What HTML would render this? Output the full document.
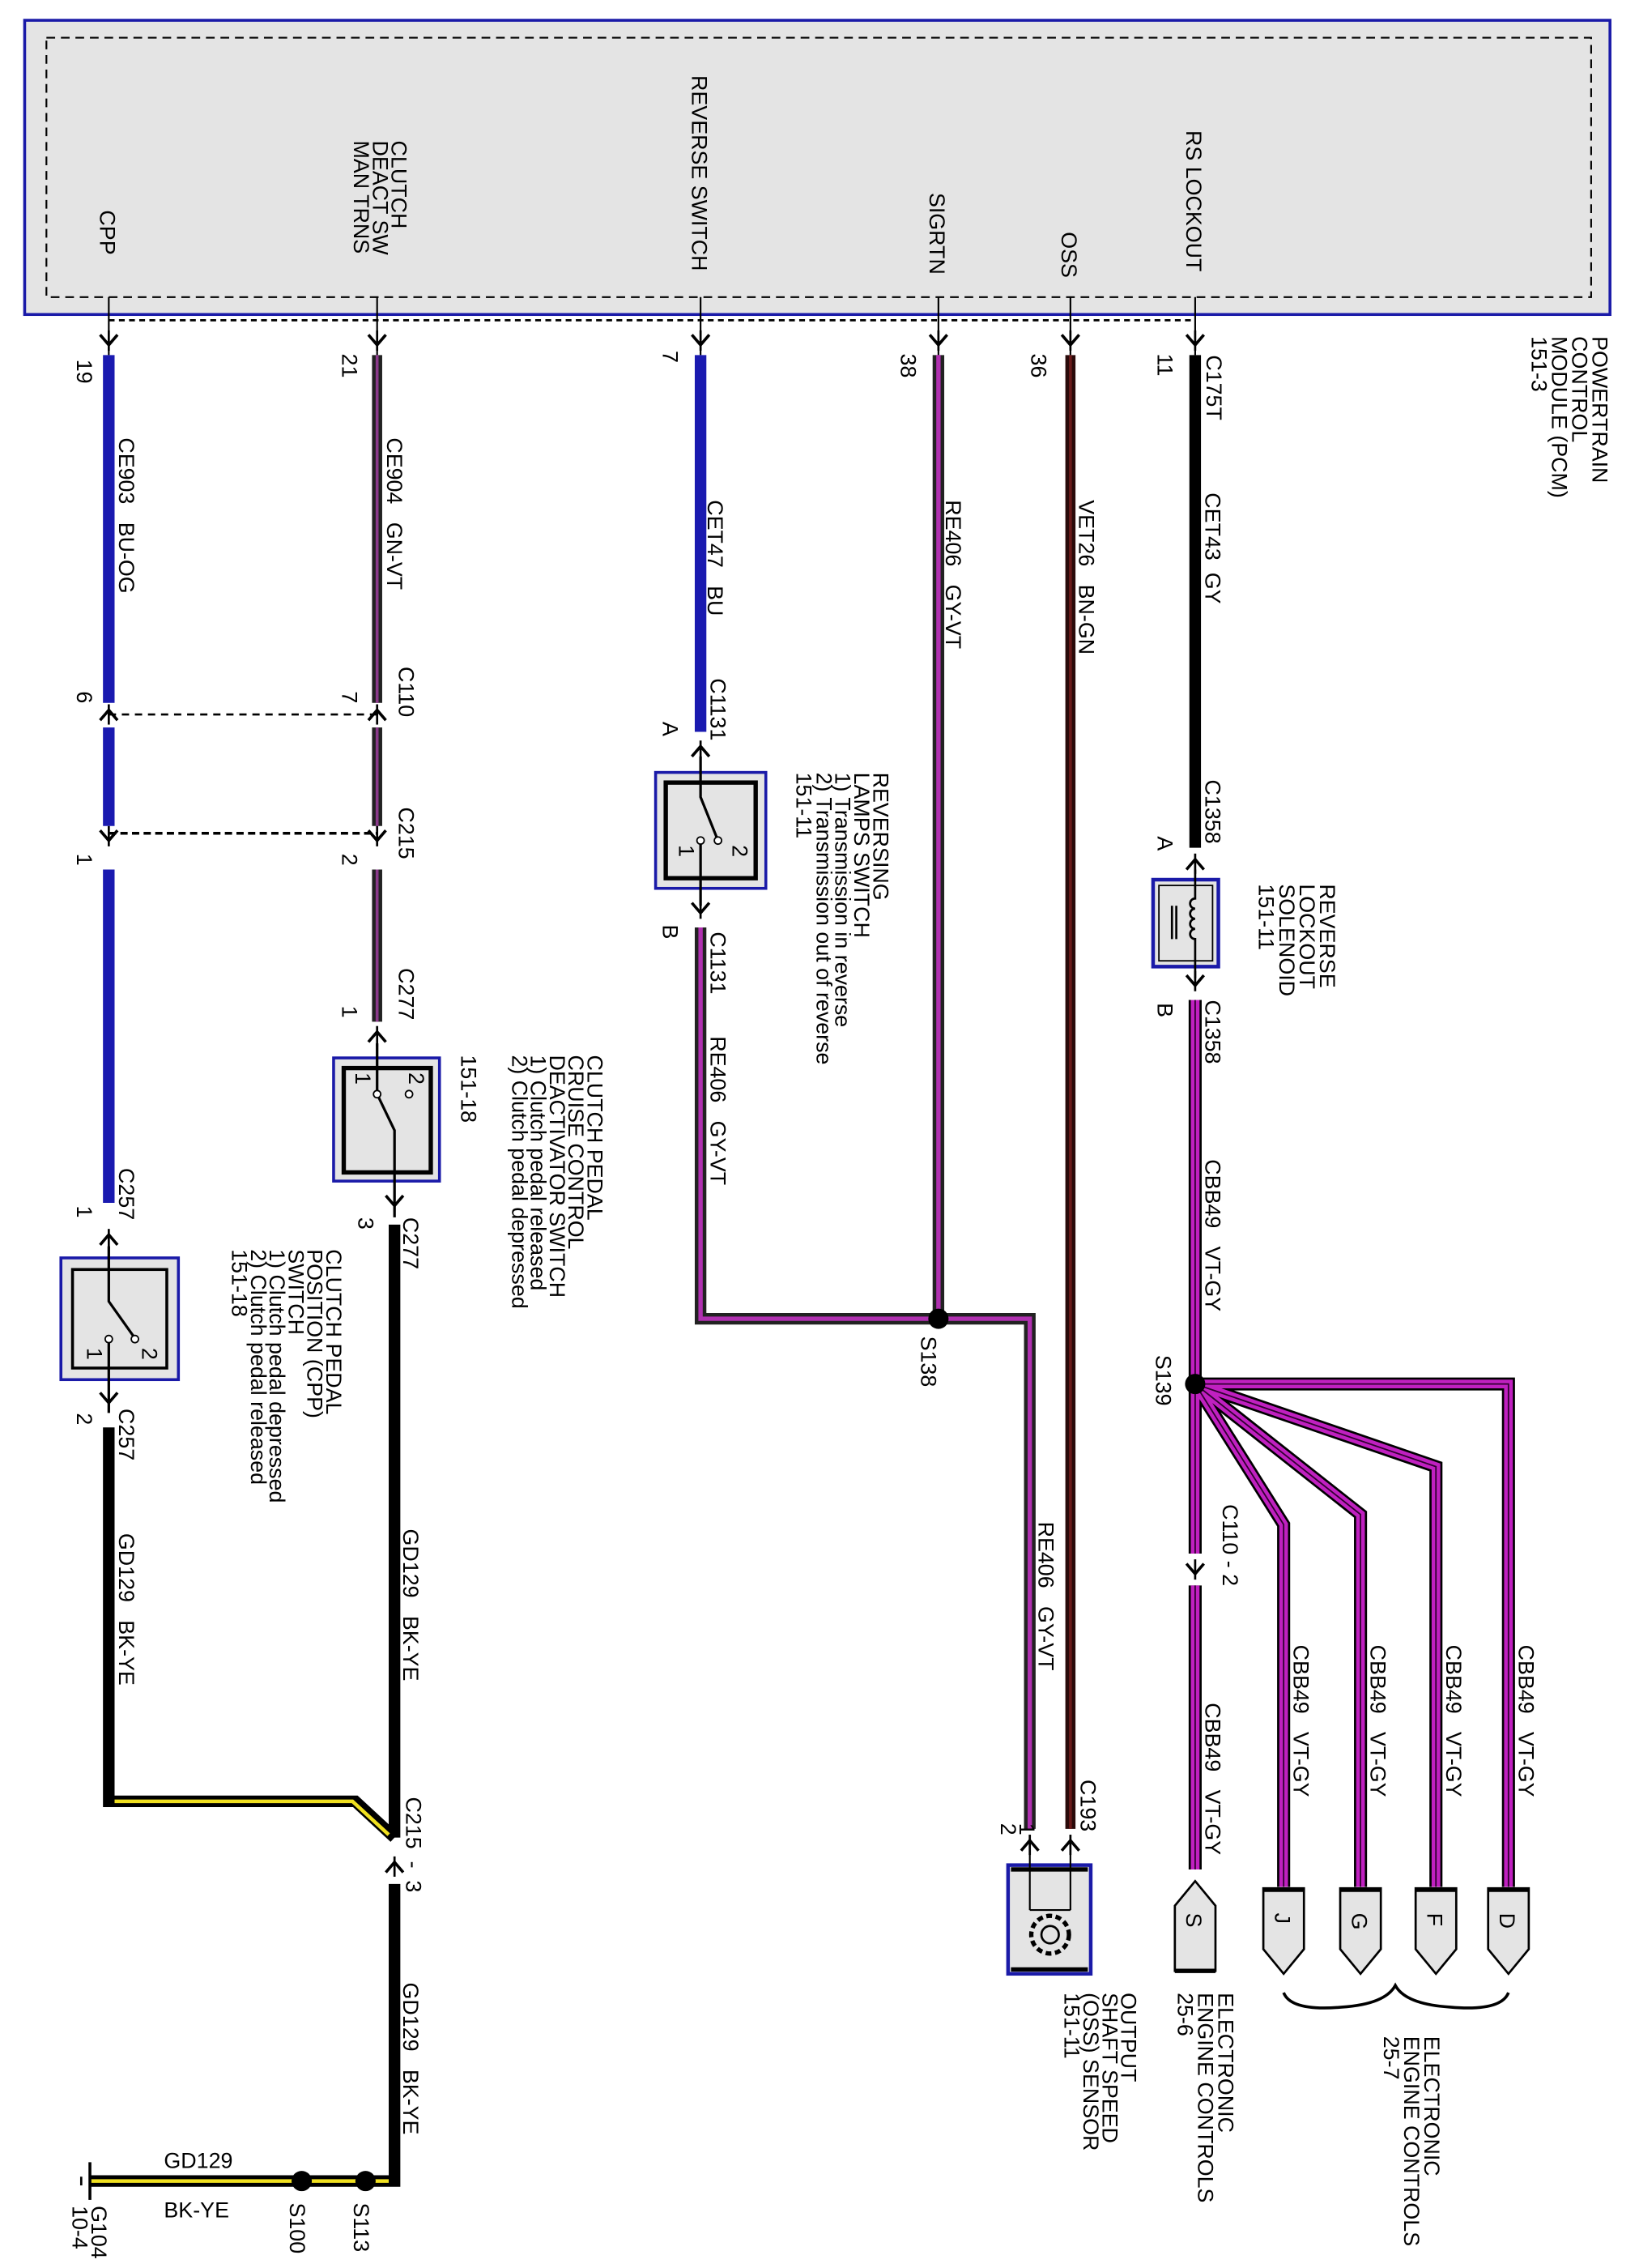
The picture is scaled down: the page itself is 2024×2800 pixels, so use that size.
<!DOCTYPE html>
<html><head><meta charset="utf-8"><style>
html,body{margin:0;padding:0;background:#fff}
svg{display:block}
text{font-family:"Liberation Sans",Arial,sans-serif;font-size:15px;fill:#000}
</style></head><body>
<svg width="2024" height="2800" viewBox="0 0 1130 1565" preserveAspectRatio="none" xmlns="http://www.w3.org/2000/svg">
<defs>
<g id="dn"><path d="M-6,-7 L0,0 L6,-7" fill="none" stroke="#000" stroke-width="2"/><line x1="0" y1="-10" x2="0" y2="4" stroke="#000" stroke-width="1.5"/></g>
<g id="up"><path d="M-6,7 L0,0 L6,7" fill="none" stroke="#000" stroke-width="2"/><line x1="0" y1="-4" x2="0" y2="10" stroke="#000" stroke-width="1.5"/></g>
</defs>
<rect x="17" y="14" width="1093" height="203" fill="#e4e4e4" stroke="#1a1aa8" stroke-width="2"/>
<rect x="32" y="26" width="1065" height="179" fill="none" stroke="#000" stroke-width="1.2" stroke-dasharray="6,4"/>
<line x1="75" y1="221" x2="824" y2="221" stroke="#000" stroke-width="1.5" stroke-dasharray="4,3"/>
<g stroke="#000" stroke-width="1.2">
<line x1="75" y1="205" x2="75" y2="245"/><line x1="260" y1="205" x2="260" y2="245"/><line x1="483" y1="205" x2="483" y2="245"/>
<line x1="647" y1="205" x2="647" y2="245"/><line x1="738" y1="205" x2="738" y2="245"/><line x1="824" y1="205" x2="824" y2="245"/>
</g>
<use href="#dn" x="75" y="238"/><use href="#dn" x="260" y="238"/><use href="#dn" x="483" y="238"/>
<use href="#dn" x="647" y="238"/><use href="#dn" x="738" y="238"/><use href="#dn" x="824" y="238"/>

<g fill="none" stroke-linejoin="miter">
<path d="M75,245 V485 M75,502 V570 M75,600 V830" stroke="#1a1ab0" stroke-width="8"/>
<path d="M260,245 V485 M260,502 V570 M260,600 V705" stroke="#222" stroke-width="7"/>
<path d="M260,245 V485 M260,502 V570 M260,600 V705" stroke="#8a3a8a" stroke-width="2"/>
<path d="M483,245 V505" stroke="#1a1ab0" stroke-width="8"/>
<path d="M483,640 V910 H647" stroke="#222" stroke-width="8"/>
<path d="M483,640 V910 H647" stroke="#b030b0" stroke-width="3"/>
<path d="M647,245 V910 H710 V1262" stroke="#222" stroke-width="8"/>
<path d="M647,245 V910 H710 V1262" stroke="#b030b0" stroke-width="3"/>
<path d="M738,245 V1262" stroke="#2a0a0a" stroke-width="7"/>
<path d="M738,245 V1262" stroke="#6a1a1a" stroke-width="2"/>
<path d="M824,245 V585" stroke="#000" stroke-width="8"/>
<g>
<path d="M824,690 V1072 M824,1094 V1290 M824,955 H1040 V1302 M824,955 L990,1012 V1302 M824,955 L938,1045 V1302 M824,955 L885,1052 V1302" stroke="#000" stroke-width="9"/>
<path d="M824,690 V1072 M824,1094 V1290 M824,955 H1040 V1302 M824,955 L990,1012 V1302 M824,955 L938,1045 V1302 M824,955 L885,1052 V1302" stroke="#c020c0" stroke-width="6"/>
<path d="M824,690 V1072 M824,1094 V1290 M824,955 H1040 V1302 M824,955 L990,1012 V1302 M824,955 L938,1045 V1302 M824,955 L885,1052 V1302" stroke="#300030" stroke-width="1"/>
</g>
<path d="M75,985 V1243 H245 L272,1268 M272,1300 V1505 H62 M272,845 V1268" stroke="#000" stroke-width="8"/>
<path d="M79,1243 H243 L268,1266 M268,1505 H62" stroke="#f0e020" stroke-width="2.5"/>
</g>

<use href="#up" x="75" y="490"/><use href="#dn" x="75" y="580"/>
<use href="#up" x="260" y="490"/><use href="#dn" x="260" y="580"/>
<line x1="75" y1="493" x2="260" y2="493" stroke="#000" stroke-width="1.5" stroke-dasharray="5,4"/>
<line x1="75" y1="575" x2="260" y2="575" stroke="#000" stroke-width="2" stroke-dasharray="5,3"/>
<use href="#up" x="260" y="712"/><use href="#dn" x="272" y="832"/>
<use href="#up" x="75" y="852"/><use href="#dn" x="75" y="968"/>
<use href="#up" x="483" y="515"/><use href="#dn" x="483" y="630"/>
<use href="#up" x="824" y="593"/><use href="#dn" x="824" y="680"/>
<use href="#dn" x="824" y="1086"/>
<use href="#up" x="272" y="1285"/>
<use href="#up" x="710" y="1270"/><use href="#up" x="738" y="1270"/>

<g>
<rect x="42" y="868" width="81" height="84" fill="#e4e4e4" stroke="#1a1aa8" stroke-width="2"/>
<rect x="50" y="876" width="65" height="68" fill="#e4e4e4" stroke="#000" stroke-width="2"/>
<path d="M75,860 V898 L92,922 M75,924 V975" stroke="#000" stroke-width="1.8" fill="none"/>
<circle cx="75" cy="924" r="2.5" fill="#fff" stroke="#000"/><circle cx="93" cy="924" r="2.5" fill="#fff" stroke="#000"/>
<text transform="translate(98,930) rotate(90)" font-size="13">2</text>
<text transform="translate(60,930) rotate(90)" font-size="13">1</text>

<rect x="230" y="730" width="73" height="85" fill="#e4e4e4" stroke="#1a1aa8" stroke-width="2"/>
<rect x="237" y="737" width="60" height="72" fill="#e4e4e4" stroke="#000" stroke-width="3"/>
<path d="M260,720 V755 L272,780 V840" stroke="#000" stroke-width="1.8" fill="none"/>
<circle cx="260" cy="755" r="2.5" fill="#fff" stroke="#000"/><circle cx="282" cy="755" r="2.5" fill="#fff" stroke="#000"/>
<text transform="translate(282,740) rotate(90)" font-size="13">2</text>
<text transform="translate(245,740) rotate(90)" font-size="13">1</text>

<rect x="452" y="533" width="76" height="80" fill="#e4e4e4" stroke="#1a1aa8" stroke-width="2"/>
<rect x="459" y="540" width="62" height="66" fill="#e4e4e4" stroke="#000" stroke-width="3"/>
<path d="M483,522 V550 L495,580 M483,580 V625" stroke="#000" stroke-width="1.8" fill="none"/>
<circle cx="483" cy="580" r="2.5" fill="#fff" stroke="#000"/><circle cx="495" cy="580" r="2.5" fill="#fff" stroke="#000"/>
<text transform="translate(505,583) rotate(90)" font-size="13">2</text>
<text transform="translate(468,583) rotate(90)" font-size="13">1</text>

<rect x="795" y="607" width="45" height="60" fill="#e4e4e4" stroke="#1a1aa8" stroke-width="2.5"/>
<rect x="799" y="611" width="37" height="52" fill="#e4e4e4" stroke="#000" stroke-width="1"/>
<path d="M824,600 V620 a3,3 0 0 0 0,7 a3,3 0 0 0 0,7 a3,3 0 0 0 0,7 a3,3 0 0 0 0,7 V675" stroke="#000" stroke-width="1.5" fill="none"/>
<line x1="808" y1="625" x2="808" y2="648" stroke="#000" stroke-width="1.5"/><line x1="811" y1="625" x2="811" y2="648" stroke="#000" stroke-width="1.5"/>

<rect x="695" y="1287" width="57" height="75" fill="#e4e4e4" stroke="#1a1aa8" stroke-width="2.5"/>
<line x1="697" y1="1290" x2="750" y2="1290" stroke="#000" stroke-width="3"/><line x1="697" y1="1359" x2="750" y2="1359" stroke="#000" stroke-width="3"/>
<path d="M710,1278 V1318 M738,1278 V1318 M710,1318 H738" stroke="#000" stroke-width="1.2" fill="none"/>
<circle cx="724" cy="1335" r="13" fill="none" stroke="#000" stroke-width="3" stroke-dasharray="4,2.5"/>
<circle cx="724" cy="1335" r="6" fill="none" stroke="#000" stroke-width="1.5"/>
</g>

<g fill="#e4e4e4" stroke="#000" stroke-width="1.5">
<path d="M810,1360 V1315 L824,1298 L838,1315 V1360 Z"/>
<path d="M871,1303 V1345 L885,1362 L899,1345 V1303 Z"/>
<path d="M924,1303 V1345 L938,1362 L952,1345 V1303 Z"/>
<path d="M976,1303 V1345 L990,1362 L1004,1345 V1303 Z"/>
<path d="M1026,1303 V1345 L1040,1362 L1054,1345 V1303 Z"/>
</g>
<line x1="810" y1="1360" x2="838" y2="1360" stroke="#000" stroke-width="3"/>
<g stroke="#000" stroke-width="3">
<line x1="871" y1="1304" x2="899" y2="1304"/><line x1="924" y1="1304" x2="952" y2="1304"/><line x1="976" y1="1304" x2="1004" y2="1304"/><line x1="1026" y1="1304" x2="1054" y2="1304"/>
</g>
<path d="M885,1375 Q890,1388 925,1385 Q955,1383 962,1370 Q969,1383 1000,1385 Q1035,1388 1040,1375" fill="none" stroke="#000" stroke-width="2"/>

<circle cx="647" cy="910" r="7" fill="#000"/>
<circle cx="824" cy="955" r="7" fill="#000"/>
<circle cx="208" cy="1505" r="7" fill="#000"/>
<circle cx="252" cy="1505" r="7" fill="#000"/>
<line x1="62" y1="1492" x2="62" y2="1518" stroke="#000" stroke-width="2"/>
<line x1="56" y1="1502" x2="56" y2="1508" stroke="#000" stroke-width="1.5"/>

<g>
<text transform="translate(69,145) rotate(90)">CPP</text>
<text transform="translate(270,97) rotate(90)">CLUTCH</text>
<text transform="translate(257,97) rotate(90)">DEACT SW</text>
<text transform="translate(244,97) rotate(90)">MAN TRNS</text>
<text transform="translate(477,52) rotate(90)">REVERSE SWITCH</text>
<text transform="translate(641,133) rotate(90)">SIGRTN</text>
<text transform="translate(732,160) rotate(90)">OSS</text>
<text transform="translate(818,90) rotate(90)">RS LOCKOUT</text>
<text transform="translate(1098,232) rotate(90)">POWERTRAIN</text>
<text transform="translate(1084,232) rotate(90)">CONTROL</text>
<text transform="translate(1070,232) rotate(90)">MODULE (PCM)</text>
<text transform="translate(1056,232) rotate(90)">151-3</text>

<text transform="translate(53,248) rotate(90)">19</text>
<text transform="translate(236,244) rotate(90)">21</text>
<text transform="translate(457,242) rotate(90)">7</text>
<text transform="translate(621,244) rotate(90)">38</text>
<text transform="translate(711,244) rotate(90)">36</text>
<text transform="translate(798,244) rotate(90)">11</text>
<text transform="translate(832,245) rotate(90)">C175T</text>

<text transform="translate(82,302) rotate(90)" xml:space="preserve">CE903   BU-OG</text>
<text transform="translate(267,302) rotate(90)" xml:space="preserve">CE904   GN-VT</text>
<text transform="translate(488,345) rotate(90)" xml:space="preserve">CET47   BU</text>
<text transform="translate(652,345) rotate(90)" xml:space="preserve">RE406   GY-VT</text>
<text transform="translate(744,345) rotate(90)" xml:space="preserve">VET26   BN-GN</text>
<text transform="translate(831,340) rotate(90)" xml:space="preserve">CET43  GY</text>

<text transform="translate(53,477) rotate(90)">6</text>
<text transform="translate(236,477) rotate(90)">7</text>
<text transform="translate(275,460) rotate(90)">C110</text>
<text transform="translate(53,589) rotate(90)">1</text>
<text transform="translate(236,589) rotate(90)">2</text>
<text transform="translate(275,557) rotate(90)">C215</text>
<text transform="translate(275,668) rotate(90)">C277</text>
<text transform="translate(236,694) rotate(90)">1</text>

<text transform="translate(490,468) rotate(90)">C1131</text>
<text transform="translate(457,498) rotate(90)">A</text>
<text transform="translate(457,638) rotate(90)">B</text>
<text transform="translate(490,643) rotate(90)">C1131</text>
<text transform="translate(490,715) rotate(90)" xml:space="preserve">RE406   GY-VT</text>
<text transform="translate(602,533) rotate(90)">REVERSING</text>
<text transform="translate(589,533) rotate(90)">LAMPS SWITCH</text>
<text transform="translate(576,533) rotate(90)" font-size="14">1) Transmission in reverse</text>
<text transform="translate(563,533) rotate(90)" font-size="14">2) Transmission out of reverse</text>
<text transform="translate(549,533) rotate(90)">151-11</text>

<text transform="translate(405,728) rotate(90)">CLUTCH PEDAL</text>
<text transform="translate(392,728) rotate(90)">CRUISE CONTROL</text>
<text transform="translate(379,728) rotate(90)">DEACTIVATOR SWITCH</text>
<text transform="translate(366,728) rotate(90)" font-size="14">1) Clutch pedal released</text>
<text transform="translate(353,728) rotate(90)" font-size="14">2) Clutch pedal depressed</text>
<text transform="translate(318,728) rotate(90)">151-18</text>
<text transform="translate(247,840) rotate(90)">3</text>
<text transform="translate(278,840) rotate(90)">C277</text>

<text transform="translate(53,832) rotate(90)">1</text>
<text transform="translate(82,806) rotate(90)">C257</text>
<text transform="translate(225,862) rotate(90)">CLUTCH PEDAL</text>
<text transform="translate(212,862) rotate(90)">POSITION (CPP)</text>
<text transform="translate(199,862) rotate(90)">SWITCH</text>
<text transform="translate(186,862) rotate(90)" font-size="14">1) Clutch pedal depressed</text>
<text transform="translate(173,862) rotate(90)" font-size="14">2) Clutch pedal released</text>
<text transform="translate(160,862) rotate(90)">151-18</text>
<text transform="translate(53,975) rotate(90)">2</text>
<text transform="translate(82,972) rotate(90)">C257</text>
<text transform="translate(82,1058) rotate(90)" xml:space="preserve">GD129   BK-YE</text>
<text transform="translate(278,1055) rotate(90)" xml:space="preserve">GD129   BK-YE</text>
<text transform="translate(280,1240) rotate(90)" xml:space="preserve">C215  -  3</text>
<text transform="translate(278,1368) rotate(90)" xml:space="preserve">GD129   BK-YE</text>

<text transform="translate(635,922) rotate(90)">S138</text>
<text transform="translate(716,1050) rotate(90)" xml:space="preserve">RE406   GY-VT</text>
<text transform="translate(745,1228) rotate(90)">C193</text>
<text transform="translate(703,1258) rotate(90)" font-size="13">1</text>
<text transform="translate(690,1258) rotate(90)" font-size="13">2</text>
<text transform="translate(773,1375) rotate(90)">OUTPUT</text>
<text transform="translate(760,1375) rotate(90)">SHAFT SPEED</text>
<text transform="translate(747,1375) rotate(90)">(OSS) SENSOR</text>
<text transform="translate(734,1375) rotate(90)">151-11</text>

<text transform="translate(831,538) rotate(90)">C1358</text>
<text transform="translate(798,577) rotate(90)">A</text>
<text transform="translate(910,610) rotate(90)">REVERSE</text>
<text transform="translate(896,610) rotate(90)">LOCKOUT</text>
<text transform="translate(882,610) rotate(90)">SOLENOID</text>
<text transform="translate(868,610) rotate(90)">151-11</text>
<text transform="translate(798,692) rotate(90)">B</text>
<text transform="translate(831,690) rotate(90)">C1358</text>
<text transform="translate(831,800) rotate(90)" xml:space="preserve">CBB49   VT-GY</text>
<text transform="translate(797,935) rotate(90)">S139</text>
<text transform="translate(843,1038) rotate(90)" xml:space="preserve">C110 - 2</text>
<text transform="translate(831,1175) rotate(90)" xml:space="preserve">CBB49   VT-GY</text>
<text transform="translate(892,1135) rotate(90)" xml:space="preserve">CBB49   VT-GY</text>
<text transform="translate(945,1135) rotate(90)" xml:space="preserve">CBB49   VT-GY</text>
<text transform="translate(997,1135) rotate(90)" xml:space="preserve">CBB49   VT-GY</text>
<text transform="translate(1047,1135) rotate(90)" xml:space="preserve">CBB49   VT-GY</text>
<text transform="translate(818,1320) rotate(90)">S</text>
<text transform="translate(879,1320) rotate(90)">J</text>
<text transform="translate(932,1320) rotate(90)">G</text>
<text transform="translate(984,1320) rotate(90)">F</text>
<text transform="translate(1034,1320) rotate(90)">D</text>
<text transform="translate(840,1375) rotate(90)">ELECTRONIC</text>
<text transform="translate(826,1375) rotate(90)">ENGINE CONTROLS</text>
<text transform="translate(812,1375) rotate(90)">25-6</text>
<text transform="translate(982,1405) rotate(90)">ELECTRONIC</text>
<text transform="translate(968,1405) rotate(90)">ENGINE CONTROLS</text>
<text transform="translate(954,1405) rotate(90)">25-7</text>

<text transform="translate(200,1520) rotate(90)">S100</text>
<text transform="translate(244,1520) rotate(90)">S113</text>
<text transform="translate(63,1522) rotate(90)">G104</text>
<text transform="translate(50,1522) rotate(90)">10-4</text>
</g>
<text x="113" y="1496" font-size="15">GD129</text>
<text x="113" y="1530" font-size="15">BK-YE</text>
</svg>
</body></html>
